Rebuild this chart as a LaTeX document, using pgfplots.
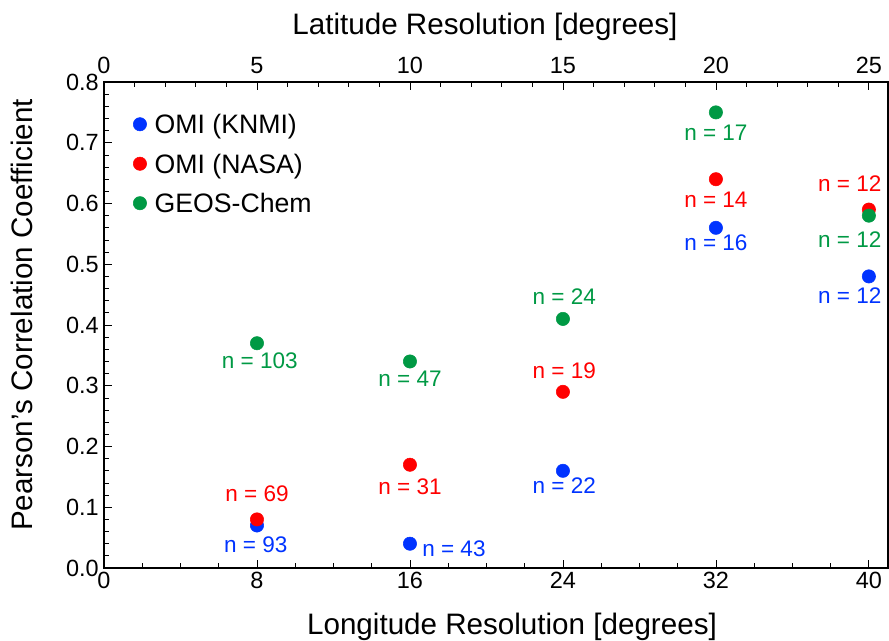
\documentclass[border=0pt]{standalone}
\usepackage{fontspec}
\setmainfont{Liberation Sans}
\usepackage{pgfplots}
\pgfplotsset{compat=1.18}
\definecolor{cblue}{RGB}{0,51,255}
\definecolor{cred}{RGB}{255,0,0}
\definecolor{cgreen}{RGB}{0,153,68}
\pgfplotsset{
  common/.style={
    at={(78pt,54pt)}, anchor=south west,
    scale only axis, width=588pt, height=364.5pt,
    ymin=0, ymax=0.8,
    /pgf/number format/assume math mode=true,
    tick align=inside,
    major tick length=6pt, minor tick length=3.5pt,
    every tick/.style={black, line width=0.6pt},
    axis line style={line width=0.9pt},
    ticklabel style={font=\fontsize{17.6}{20}\selectfont},
  }
}
\begin{document}
\begin{tikzpicture}
\useasboundingbox (0,0) rectangle (666.75pt,480pt);
\begin{axis}[common,
  xmin=0, xmax=41,
  xtick={0,8,16,24,32,40}, minor x tick num=3,
  ytick={0,0.1,0.2,0.3,0.4,0.5,0.6,0.7,0.8}, minor y tick num=4,
  xtick pos=bottom, ytick pos=left,
  yticklabel style={/pgf/number format/fixed, /pgf/number format/fixed zerofill, /pgf/number format/precision=1,
    anchor=east, inner sep=0pt, xshift=-3.75pt},
  xticklabel style={anchor=north, inner sep=0pt, yshift=-3pt},
  legend style={at={(rel axis cs:0.037,0.935)}, anchor=north west, draw=none, fill=none,
    inner sep=0pt, row sep=9.6pt, column sep=0pt,
    nodes={inner sep=0pt, text height=15pt, text depth=5pt, font=\fontsize{20}{24}\selectfont}},
  legend cell align=left,
  legend image code/.code={\draw[#1, mark size=5pt] plot coordinates {(5pt,2.2pt)};\path[draw=none,fill=none] (0pt,-1pt) rectangle (16pt,1pt);},
]
\addplot[only marks, mark=*, mark size=5pt, color=cblue] coordinates {(8,0.07) (16,0.04) (24,0.16) (32,0.56) (40,0.48)};
\addlegendentry{OMI (KNMI)}
\addplot[only marks, mark=*, mark size=5pt, color=cred] coordinates {(8,0.08) (16,0.17) (24,0.29) (32,0.64) (40,0.59)};
\addlegendentry{OMI (NASA)}
\addplot[only marks, mark=*, mark size=5pt, color=cgreen] coordinates {(8,0.37) (16,0.34) (24,0.41) (32,0.75) (40,0.58)};
\addlegendentry{GEOS-Chem}
\begin{scope}[every node/.style={inner sep=0pt, font=\fontsize{16.9}{19}\selectfont}]
\node[text=cgreen] at (axis cs:8.15,0.341) {n = 103};
\node[text=cred] at (axis cs:8.0,0.122) {n = 69};
\node[text=cblue] at (axis cs:7.94,0.038) {n = 93};
\node[text=cgreen] at (axis cs:16.0,0.311) {n = 47};
\node[text=cred] at (axis cs:16.0,0.133) {n = 31};
\node[text=cblue] at (axis cs:18.3,0.031) {n = 43};
\node[text=cgreen] at (axis cs:24.07,0.446) {n = 24};
\node[text=cred] at (axis cs:24.07,0.325) {n = 19};
\node[text=cblue] at (axis cs:24.07,0.135) {n = 22};
\node[text=cgreen] at (axis cs:32.0,0.717) {n = 17};
\node[text=cred] at (axis cs:32.0,0.606) {n = 14};
\node[text=cblue] at (axis cs:32.0,0.535) {n = 16};
\node[text=cred] at (axis cs:39.0,0.633) {n = 12};
\node[text=cgreen] at (axis cs:39.0,0.540) {n = 12};
\node[text=cblue] at (axis cs:39.0,0.448) {n = 12};
\end{scope}
\end{axis}
\begin{axis}[common,
  xmin=0, xmax=25.625,
  axis x line*=top, axis y line=none,
  xtick={0,5,10,15,20,25}, minor x tick num=4,
  xticklabel style={anchor=south, inner sep=0pt, yshift=6pt},
]
\addplot[draw=none] coordinates {(0,0)};
\end{axis}
\node[anchor=base, font=\fontsize{22.2}{26}\selectfont] at (384pt,4.5pt) {Longitude Resolution [degrees]};
\node[anchor=base, font=\fontsize{22.2}{26}\selectfont] at (363.75pt,453.75pt) {Latitude Resolution [degrees]};
\node[anchor=base, rotate=90, font=\fontsize{22.2}{26}\selectfont] at (24pt,243.75pt) {Pearson’s Correlation Coefficient};
\end{tikzpicture}
\end{document}
